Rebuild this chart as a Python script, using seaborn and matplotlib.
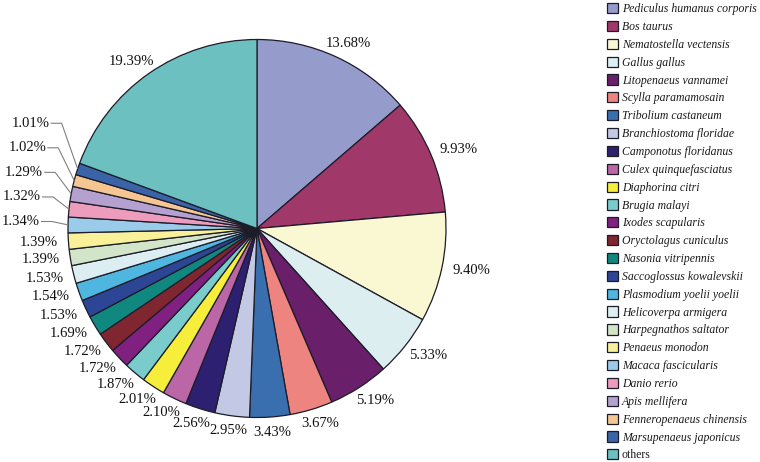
import numpy as np
import matplotlib
matplotlib.use("Agg")
import matplotlib.pyplot as plt
import seaborn as sns
from matplotlib.font_manager import FontProperties

# | Data |---------------------------------------------------------------------|
species = [
    "Pediculus humanus corporis", "Bos taurus", "Nematostella vectensis",
    "Gallus gallus", "Litopenaeus vannamei", "Scylla paramamosain",
    "Tribolium castaneum", "Branchiostoma floridae", "Camponotus floridanus",
    "Culex quinquefasciatus", "Diaphorina citri", "Brugia malayi",
    "Ixodes scapularis", "Oryctolagus cuniculus", "Nasonia vitripennis",
    "Saccoglossus kowalevskii", "Plasmodium yoelii yoelii",
    "Helicoverpa armigera", "Harpegnathos saltator", "Penaeus monodon",
    "Macaca fascicularis", "Danio rerio", "Apis mellifera",
    "Fenneropenaeus chinensis", "Marsupenaeus japonicus", "others",
]
shares = [13.68, 9.93, 9.40, 5.33, 5.19, 3.67, 3.43, 2.95, 2.56, 2.10,
          2.01, 1.87, 1.72, 1.72, 1.69, 1.53, 1.54, 1.53, 1.39, 1.39,
          1.34, 1.32, 1.29, 1.02, 1.01, 19.39]
slice_colors = [
    "#959BCB", "#A0386A", "#FAF8D2", "#DDEEF0", "#6A1F6A", "#EE8480",
    "#3A6FAF", "#C3C8E4", "#2E2070", "#BB66A6", "#F6EE3A", "#7ACCCC",
    "#802080", "#7F2630", "#108880", "#2D4595", "#4FB6E0", "#DDEEF2",
    "#D2E5C8", "#F8F19A", "#9ACBEB", "#EE9CBE", "#B4A1CF", "#F6C692",
    "#3B63A8", "#6DC0C0",
]
leader_slices = [20, 21, 22, 23, 24]   # labels drawn with leader lines

# | Layout (pixels) |----------------------------------------------------------|
W, H = 760, 462
CX, CY, R_PX = 257, 228.5, 189
GAP, TW, TH = 8, 44, 14

sns.set_theme(style="white")
plt.rcParams["font.family"] = ["Liberation Serif", "DejaVu Serif"]

fig = plt.figure(figsize=(W / 100, H / 100), dpi=100)
ax = fig.add_axes([0, 0, 1, 1])

wedges, _ = ax.pie(
    shares, colors=sns.color_palette(slice_colors), startangle=90,
    counterclock=False, radius=1,
    wedgeprops=dict(edgecolor="#1c1c28", linewidth=0.9),
)
ax.set_xlim(-CX / R_PX, (W - CX) / R_PX)
ax.set_ylim(-(H - CY) / R_PX, CY / R_PX)
ax.set_aspect("auto")
ax.axis("off")

label_font = FontProperties(family="Liberation Serif", size=10.5)
px = 1.0 / R_PX
leader_i = 0
for i, (w, v) in enumerate(zip(wedges, shares)):
    mid = np.deg2rad((w.theta1 + w.theta2) / 2)
    ux, uy = np.cos(mid), np.sin(mid)
    txt = f"{v:.2f}%"
    if i in leader_slices:
        ex, ey = ux, uy
        ty = 0.037 + 0.13 * leader_i
        tx = ex - 28 * px
        ax.text(tx, ty, txt, ha="right", va="center", fontproperties=label_font,
                color="#111111")
        ax.plot([tx + 1 * px, tx + 12 * px, ex], [ty, ty, ey],
                color="#808080", lw=0.8, solid_capstyle="butt")
        leader_i += 1
    else:
        rr = 1 + GAP * px
        x = rr * ux + (TW / 2) * px * ux
        y = rr * uy + (TH / 2) * px * uy
        ax.text(x, y, txt, ha="center", va="center", fontproperties=label_font,
                color="#111111")

leg = fig.legend(
    wedges, species, loc="upper left", bbox_to_anchor=(607 / W, 1 - 3 / H),
    frameon=False, prop=FontProperties(family="Liberation Serif",
                                       style="italic", size=8.5),
    handlelength=0.95, handleheight=0.95, handletextpad=0.3,
    labelspacing=0.483, borderaxespad=0.0, borderpad=0.0,
)
for t in leg.get_texts():
    t.set_color("#1a1a1a")
leg.get_texts()[-1].set_fontstyle("normal")

fig.savefig("out.png", dpi=100)
